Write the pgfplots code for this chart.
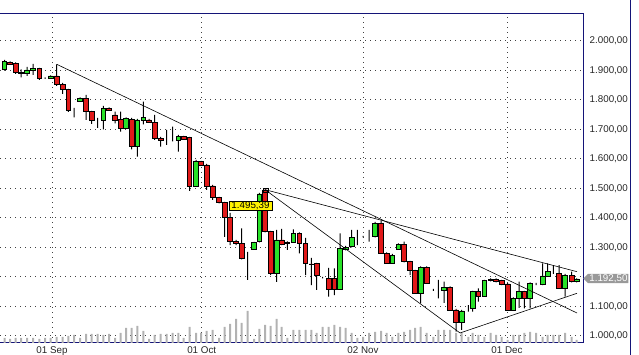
\documentclass[border=0pt]{standalone}
\usepackage{pgfplots}
\usepackage{pgfplotstable}
\pgfplotsset{compat=1.18}
\usepackage{fontspec}
\setmainfont{Liberation Sans}
\usetikzlibrary{shapes.symbols}
\definecolor{cred}{RGB}{225,25,25}
\definecolor{cgreen}{RGB}{40,225,40}
\definecolor{frame}{RGB}{20,20,120}

\pgfplotstableread{
x o h l c v
4.5 1903.4 1934.9 1898.6 1929.1 5
10 1927.1 1929.8 1919.6 1921.3 4
15.7 1923.7 1927.1 1887.4 1891.8 5
21 1893.2 1903.4 1876.3 1889.8 5
27 1889.8 1911.2 1880.7 1901.0 5
33 1898.6 1921.3 1884.0 1906.8 5
39.3 1906.8 1907.8 1867.1 1872.9 4
45 1872.9 1875.6 1870.5 1872.9 5
50.7 1872.9 1882.4 1872.2 1880.7 5
56.7 1880.7 1920.3 1846.8 1852.5 6
62.7 1852.5 1856.9 1819.6 1835.6 6
68.3 1835.6 1836.6 1758.6 1765.4 7
74 1765.4 1772.2 1740.7 1765.4 8
80 1795.9 1807.8 1794.2 1805.1 5
86 1805.1 1816.2 1731.5 1759.6 9
91.7 1759.6 1762.0 1717.9 1731.5 9
97.7 1731.5 1738.3 1704.4 1731.5 9
103.3 1731.5 1779.0 1700.0 1771.2 8
109 1771.2 1773.9 1762.0 1763.0 9
115 1748.4 1759.6 1720.3 1731.5 5
120.7 1733.9 1759.6 1691.8 1703.4 10
126 1703.4 1740.0 1701.0 1737.3 15
131.7 1733.9 1738.3 1632.2 1641.0 15
137.3 1641.0 1734.9 1607.1 1731.5 17
143.3 1731.5 1793.5 1716.9 1740.7 12
149 1731.5 1734.9 1721.3 1723.7 4
154.7 1723.7 1748.4 1663.7 1669.5 8
160.7 1669.5 1673.9 1641.0 1661.3 9
166.7 1661.3 1697.6 1646.7 1661.3 9
172.7 1661.3 1708.8 1658.6 1661.3 10
178.3 1661.3 1680.6 1624.0 1674.9 10
183.7 1674.9 1677.3 1663.7 1666.1 5
189.5 1671.5 1673.9 1490.8 1507.8 16
196 1507.8 1595.9 1504.4 1590.1 10
201 1590.1 1592.5 1575.6 1578.9 10
206.7 1578.9 1582.3 1494.2 1507.8 12
212.7 1507.8 1511.1 1460.3 1468.8 13
219 1468.8 1470.5 1448.4 1451.8 5
224.7 1451.8 1453.5 1334.9 1401.0 16
230 1401.0 1416.2 1307.7 1318.9 19
236 1318.9 1324.7 1307.7 1312.8 24
241.7 1312.8 1364.4 1258.6 1262.7 20
247.7 1264.7 1284.0 1189.1 1264.7 32
254 1293.2 1317.9 1290.8 1315.5 4
259.3 1318.9 1484.0 1316.2 1480.6 14
265 1494.2 1495.39 1350.1 1352.8 18
270.7 1352.8 1355.2 1206.0 1211.8 17
276.7 1211.8 1358.6 1182.3 1324.7 24
281.7 1324.7 1362.0 1307.7 1311.1 16
287.3 1312.8 1319.6 1290.8 1316.9 5
293.3 1317.9 1360.3 1314.5 1347.4 13
299.3 1347.4 1350.1 1279.6 1313.5 13
305.5 1313.5 1331.5 1206.0 1245.7 13
311.3 1243.3 1263.7 1172.1 1241.6 13
316.7 1245.7 1246.7 1155.2 1204.4 10
322.7 1196.9 1199.3 1194.2 1196.9 16
328.7 1194.9 1229.8 1132.5 1157.6 16
334.3 1194.9 1228.8 1138.2 1157.6 18
340 1157.6 1347.4 1155.2 1296.6 16
345.7 1293.2 1304.4 1289.1 1298.6 15
351.7 1302.0 1358.6 1299.3 1333.9 10
357.3 1335.9 1358.6 1307.7 1335.9 5
363 1335.9 1338.3 1333.2 1335.9 6
369 1335.9 1358.6 1318.9 1335.9 10
375 1335.9 1385.7 1333.2 1381.3 11
381 1381.3 1390.1 1277.2 1279.6 12
386.7 1279.6 1282.3 1243.3 1245.7 10
392.3 1245.7 1277.2 1243.3 1273.8 6
398.3 1294.2 1312.8 1290.8 1310.1 10
404 1310.1 1318.9 1248.4 1251.1 11
410 1251.1 1253.5 1206.0 1220.6 13
415 1220.6 1223.0 1141.6 1144.0 15
420.7 1144.0 1234.9 1110.1 1232.2 16
426.7 1232.2 1234.9 1175.5 1177.9 10
433.3 1155.2 1158.6 1152.0 1155.2 6
438.3 1155.2 1189.1 1127.1 1155.2 13
444 1152.8 1183.3 1111.1 1164.4 13
450 1164.4 1167.1 1084.0 1087.4 13
456 1087.4 1090.8 1013.8 1045.7 10
461.7 1045.7 1087.4 1019.6 1084.0 10
468.3 1093.2 1104.3 1081.6 1093.2 6
472.7 1093.2 1151.8 1081.6 1149.4 10
478.3 1149.4 1161.0 1115.5 1134.9 8
484.3 1134.9 1189.1 1131.5 1186.7 6
490.7 1186.7 1194.2 1184.0 1191.5 10
496 1191.5 1194.2 1180.6 1183.3 8
501.7 1186.7 1189.1 1172.1 1175.5 6
507.7 1175.5 1178.9 1084.0 1087.4 3
513.3 1087.4 1129.8 1084.0 1127.1 8
519 1127.1 1183.3 1094.2 1149.4 8
524.3 1149.4 1151.8 1093.2 1127.1 10
530 1127.1 1180.6 1093.2 1177.9 11
536 1175.5 1178.9 1172.1 1175.5 10
542.7 1175.5 1245.7 1172.1 1202.7 6
547.7 1202.7 1245.7 1199.3 1217.2 8
553.3 1213.8 1239.9 1209.4 1213.8 8
559 1211.8 1239.9 1158.6 1161.0 8
565 1161.0 1209.4 1132.5 1206.0 10
571.7 1206.0 1217.2 1180.6 1183.3 6
576.7 1183.3 1194.2 1180.6 1192.5 3
}\data

\pgfplotsset{
  base/.style={at={(0,12pt)}, anchor=south west, width=583pt, height=329pt,
    scale only axis, xmin=0, xmax=583, ymin=975.5, ymax=2090.8},
}

\begin{document}
\begin{tikzpicture}
\useasboundingbox (0,0) rectangle (639pt,355pt);
% main axis: grid, ticks, frame
\begin{axis}[base,
  axis line style={draw=none},
  xtick={52,201.7,363,507},
  xticklabels={01 Sep,01 Oct,02 Nov,01 Dec},
  ytick={1000,1100,1200,1300,1400,1500,1600,1700,1800,1900,2000},
  yticklabels={{1.000,00},{1.100,00},{},{1.300,00},{1.400,00},{1.500,00},{1.600,00},{1.700,00},{1.800,00},{1.900,00},{2.000,00}},
  yticklabel pos=right,
  major tick length=0pt,
  tick label style={font=\fontsize{9.8}{11}\selectfont, text=black!85},
  yticklabel style={anchor=west, inner sep=0pt, xshift=6.5pt},
  xticklabel style={anchor=north, inner sep=0pt, yshift=-3.5pt},
  grid=major,
  major grid style={black!75, line width=0.8pt, dash pattern=on 0.8pt off 4.2pt},
  clip mode=individual,
]
\addplot[draw=none] coordinates {(0,1000)};
\draw[frame, line width=1pt] (rel axis cs:0,1) -- (rel axis cs:1,1) -- (rel axis cs:1,0) -- (rel axis cs:0,0);
\end{axis}
% volume
\begin{axis}[base, ymin=0, ymax=329, hide axis, ybar, bar width=2pt]
\addplot[fill=black!30, draw=none] table[x=x, y=v]{\data};
\end{axis}
% wicks
\begin{axis}[base, hide axis, ybar stacked, bar width=1pt]
\addplot[fill=none, draw=none] table[x=x, y=l]{\data};
\addplot[fill=black, draw=none] table[x=x, y expr={\thisrow{h}-\thisrow{l}}]{\data};
\end{axis}
% bodies
\begin{axis}[base, hide axis, ybar stacked, bar width=4.5pt]
\addplot[fill=none, draw=none] table[x=x, y expr={min(\thisrow{o},\thisrow{c})}]{\data};
\addplot[fill=cred, draw=black, line width=0.6pt] table[x=x, y expr={max(\thisrow{o}-\thisrow{c},0)}]{\data};
\addplot[fill=cgreen, draw=black, line width=0.6pt] table[x=x, y expr={max(\thisrow{c}-\thisrow{o},0)}]{\data};
\end{axis}
% trend lines and annotations
\begin{axis}[base, hide axis, clip mode=individual]
\addplot[black, line width=0.6pt] coordinates {(56.7,1920.3) (577,1077.2)};
\addplot[black, line width=0.6pt] coordinates {(265,1495.39) (577,1217.2)};
\addplot[black, line width=0.6pt] coordinates {(265,1495.39) (460,1009.5)};
\addplot[black, line width=0.6pt] coordinates {(460,1009.5) (577,1144.0)};
\addplot[only marks, mark=square, mark size=2.3pt, black, line width=0.6pt] coordinates {(265.5,1493)};
\node[fill=yellow, draw=black, line width=0.5pt, inner xsep=2.5pt, inner ysep=1pt,
  text height=6.8pt, text depth=0.3pt, font=\fontsize{9.8}{11}\selectfont]
  at (axis cs:250.5,1442) {1.495,39};
\node[signal, signal to=west, fill=black!40, text=white, inner xsep=1pt, inner ysep=1pt,
  text height=6.8pt, text depth=0.3pt, anchor=west, font=\fontsize{9.8}{11}\selectfont]
  at (axis cs:583,1194) {\hspace{0.5pt}1.192,50};
\end{axis}
\draw[frame, line width=1pt] (630pt,0) -- (630pt,355pt);
\end{tikzpicture}
\end{document}
